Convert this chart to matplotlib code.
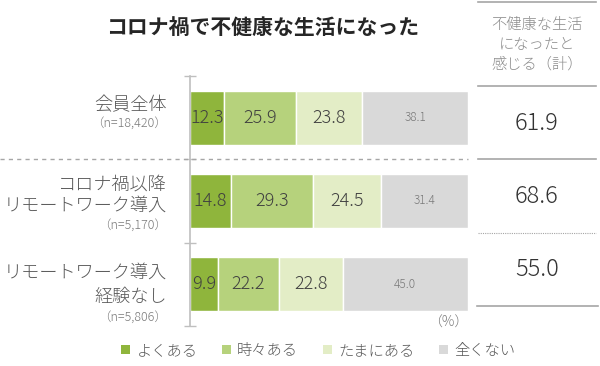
import matplotlib.pyplot as plt
from matplotlib.lines import Line2D
from matplotlib.patches import Patch

plt.rcParams['font.family'] = ['Noto Sans CJK JP', 'DejaVu Sans']
plt.rcParams['font.weight'] = 'light'

# Data
groups = ['会員全体', 'コロナ禍以降\nリモートワーク導入', 'リモートワーク導入\n経験なし']
sample_sizes = ['（n=18,420）', '（n=5,170）', '（n=5,806）']
categories = ['よくある', '時々ある', 'たまにある', '全くない']
often = [12.3, 14.8, 9.9]
sometimes = [25.9, 29.3, 22.2]
rarely = [23.8, 24.5, 22.8]
never = [38.1, 31.4, 45.0]
totals = ['61.9', '68.6', '55.0']

colors = ['#8fb53c', '#b6d27c', '#e3edc6', '#d9d9d9']
gray = '#595959'

W, H = 600, 366
fig = plt.figure(figsize=(6, 3.66), dpi=100)


def fx(px):
    return px / W


def fy(py):
    return 1 - py / H


# Bar axes
ax = fig.add_axes([fx(190), fy(326), fx(468) - fx(190), fy(76) - fy(326)])
series = [often, sometimes, rarely, never]
ypos = range(len(groups))
left = [0.0] * len(groups)
for i, vals in enumerate(series):
    bars = ax.barh(ypos, vals, left=left, height=0.65, color=colors[i],
                   edgecolor='white', linewidth=1)
    for j, b in enumerate(bars):
        cx = left[j] + vals[j] / 2
        if i == 3:
            ax.text(cx, j, f'{vals[j]:.1f}', ha='center', va='center',
                    fontsize=8.5, color='#7a7a7a')
        else:
            ax.text(cx, j, f'{vals[j]:.1f}', ha='center', va='center',
                    fontsize=13, color='#404040')
    left = [l + v for l, v in zip(left, vals)]

ax.set_xlim(0, 100)
ax.set_ylim(2.5, -0.5)
ax.set_xticks([])
ax.set_yticks([-0.5, 0.5, 1.5, 2.5])
ax.set_yticklabels([])
ax.tick_params(axis='y', direction='inout', length=8, color='#bfbfbf', width=1)
for s in ['top', 'right', 'bottom']:
    ax.spines[s].set_visible(False)
ax.spines['left'].set_color('#bfbfbf')
ax.spines['left'].set_linewidth(1.2)

# Group labels
lab = dict(ha='right', va='center', fontsize=13.1, color=gray)
small = dict(ha='right', va='center', fontsize=9, color='#7a7a7a')
fig.text(fx(167), fy(105), '会員全体', **lab)
fig.text(fx(167), fy(123), sample_sizes[0], **small)
fig.text(fx(167), fy(185), 'コロナ禍以降', **lab)
fig.text(fx(167), fy(206), 'リモートワーク導入', **lab)
fig.text(fx(167), fy(225), sample_sizes[1], **small)
fig.text(fx(167), fy(273), 'リモートワーク導入', **lab)
fig.text(fx(167), fy(297), '経験なし', **lab)
fig.text(fx(167), fy(317), sample_sizes[2], **small)

# Dashed separator
fig.add_artist(Line2D([0, fx(468)], [fy(159), fy(159)], color='#a6a6a6',
                      linestyle=(0, (3, 3)), linewidth=1))

# Title
fig.text(fx(106), fy(27), 'コロナ禍で不健康な生活になった', ha='left', va='center',
         fontsize=15, fontweight='bold', color='#262626')

# Right panel
fig.add_artist(Line2D([fx(478), fx(596)], [fy(2), fy(2)], color='#a6a6a6', linewidth=1.2))
fig.add_artist(Line2D([fx(478), fx(596)], [fy(86), fy(86)], color='#a6a6a6', linewidth=1.2))
fig.add_artist(Line2D([fx(478), fx(596)], [fy(159), fy(159)], color='#a6a6a6', linewidth=1.2))
fig.add_artist(Line2D([fx(478), fx(596)], [fy(233), fy(233)], color='#a6a6a6',
                      linestyle=(0, (1, 1)), linewidth=0.8))
fig.add_artist(Line2D([fx(477), fx(598)], [fy(306), fy(306)], color='#a6a6a6', linewidth=1.2))

hdr = dict(ha='center', va='center', fontsize=11, color='#8c8c8c')
fig.text(fx(537), fy(25), '不健康な生活', **hdr)
fig.text(fx(537), fy(45), 'になったと', **hdr)
fig.text(fx(537), fy(64), '感じる（計）', **hdr)

for py, t in zip([123, 196, 270], totals):
    fig.text(fx(537), fy(py), t, ha='center', va='center', fontsize=17, color='#333333')

fig.text(fx(468), fy(323), '（%）', ha='right', va='center', fontsize=10, color='#7a7a7a')

# Legend
handles = [Patch(facecolor=c, edgecolor='none') for c in colors]
fig.legend(handles, categories, loc='center', bbox_to_anchor=(fx(318), fy(351)),
           ncol=4, frameon=False, fontsize=11, labelcolor=gray,
           handlelength=0.6, handleheight=0.6, handletextpad=0.4, columnspacing=1.6)

fig.savefig('out.png', dpi=100)
